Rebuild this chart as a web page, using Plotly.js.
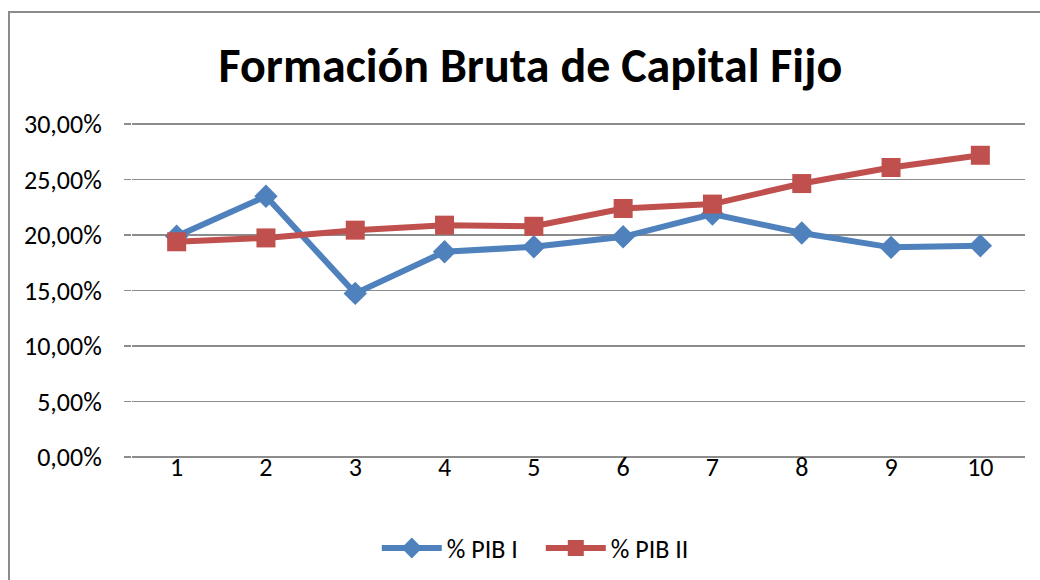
<!DOCTYPE html>
<html>
<head>
<meta charset="utf-8">
<script src="https://cdn.plot.ly/plotly-3.0.1.min.js"></script>
<style>
  html, body { margin: 0; padding: 0; background: #fff; }
  #wrap { position: relative; width: 1040px; height: 580px; overflow: hidden; }
  #frame { position: absolute; left: 8px; top: 11px; width: 1100px; height: 700px;
           border-left: 2px solid #8c8c8c; border-top: 2px solid #8c8c8c; pointer-events: none; }
  #chart { position: absolute; left: 0; top: 0; width: 1040px; height: 580px; }
</style>
</head>
<body>
<div id="wrap">
  <div id="chart"></div>
  <div id="frame"></div>
</div>
<script>
const categories = ['1', '2', '3', '4', '5', '6', '7', '8', '9', '10'];
const pibI  = [0.199, 0.235, 0.1475, 0.185, 0.1895, 0.1985, 0.219, 0.202, 0.189, 0.1905];
const pibII = [0.194, 0.1975, 0.2045, 0.209, 0.208, 0.224, 0.228, 0.2465, 0.261, 0.272];
const yTicks = [0, 0.05, 0.10, 0.15, 0.20, 0.25, 0.30];
const seriesNames = ['% PIB I', '% PIB II'];

const font = 'Calibri, Carlito, "Noto Sans", "Open Sans", sans-serif';

const traces = [
  {
    x: categories, y: pibI, name: seriesNames[0], type: 'scatter', mode: 'lines+markers',
    line: { color: '#4F81BD', width: 6 },
    marker: { symbol: 'diamond', size: 18, color: '#4F81BD' }
  },
  {
    x: categories, y: pibII, name: seriesNames[1], type: 'scatter', mode: 'lines+markers',
    line: { color: '#C0504D', width: 6 },
    marker: { symbol: 'square', size: 19, color: '#C0504D' }
  }
];

const layout = {
  width: 1040, height: 580,
  margin: { l: 132, r: 15, t: 122, b: 123, autoexpand: false },
  paper_bgcolor: 'rgba(0,0,0,0)',
  plot_bgcolor: 'rgba(0,0,0,0)',
  separators: ',.',
  font: { family: font, size: 26, color: '#000' },
  title: {
    text: '<b>Formación Bruta de Capital Fijo</b>',
    font: { family: font, size: 48, color: '#000' },
    x: 0.51, xanchor: 'center', y: 0.888, yanchor: 'middle'
  },
  xaxis: {
    type: 'category', range: [-0.5, 9.5],
    showgrid: false, zeroline: false, showline: false,
    ticks: '', tickfont: { family: font, size: 26 }, ticklabelstandoff: -8
  },
  yaxis: {
    range: [0, 0.302], tickvals: yTicks, tickformat: '.2%',
    showgrid: true, gridcolor: '#8c8c8c', gridwidth: 1.5,
    zeroline: true, zerolinecolor: '#8c8c8c', zerolinewidth: 1.5, showline: false,
    ticks: 'outside', ticklen: 7, tickcolor: '#8c8c8c', tickwidth: 1.5,
    ticklabelstandoff: 17,
    tickfont: { family: font, size: 26 }
  },
  showlegend: true,
  legend: {
    orientation: 'h', xref: 'container', yref: 'container',
    x: 0.52, xanchor: 'center', y: 0.055, yanchor: 'middle',
    font: { family: font, size: 26 }, itemwidth: 60, entrywidth: 89, tracegroupgap: 0
  }
};

Plotly.newPlot('chart', traces, layout, { displayModeBar: false, staticPlot: true });
</script>
</body>
</html>
